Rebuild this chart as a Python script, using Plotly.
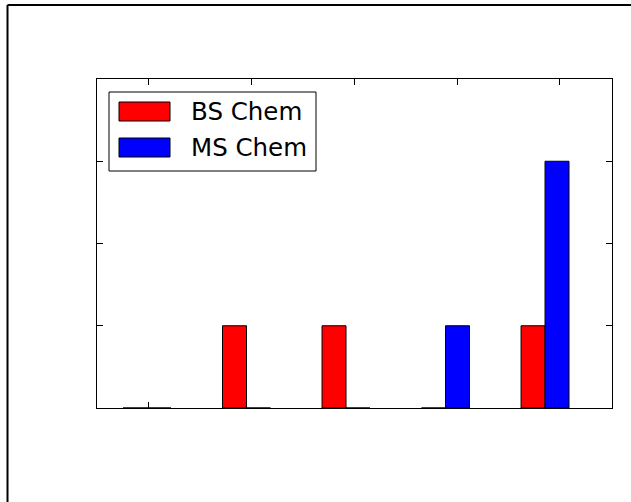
import plotly.graph_objects as go

# ---- data ----
groups = [0, 1, 2, 3, 4]
bs_chem = [0, 1, 1, 0, 1]
ms_chem = [0, 0, 0, 1, 3]
series_names = ["BS Chem", "MS Chem"]
series_colors = ["#ff0000", "#0000ff"]
top_tick_positions = [0.01, 1.05, 2.09, 3.12, 4.15]
bottom_tick_positions = [0.01]
y_ticks = [0, 1, 2, 3, 4]

W, H = 631, 502
L, R, T, B = 97, 19, 79, 94
PW, PH = W - L - R, H - T - B


def px(x):
    return (x - L) / PW


def py(y):
    return (H - B - y) / PH


fig = go.Figure()
for name, vals, col in zip(series_names, [bs_chem, ms_chem], series_colors):
    fig.add_trace(go.Bar(x=groups, y=vals, name=name, marker=dict(color=col, line=dict(color="black", width=1)),
                         showlegend=False))
# invisible trace for top axis
fig.add_trace(go.Scatter(x=[groups[0]], y=[0], xaxis="x2", mode="markers",
                         marker=dict(opacity=0), showlegend=False, hoverinfo="skip"))

xr = [-0.5025, 4.673]
fig.update_layout(
    width=W, height=H,
    margin=dict(l=L, r=R, t=T, b=B, pad=0),
    paper_bgcolor="white", plot_bgcolor="white",
    barmode="group", bargap=0.518, bargroupgap=0,
    font=dict(family="DejaVu Sans", color="black"),
    xaxis=dict(range=xr, showgrid=False, zeroline=False, showline=True, linecolor="black", linewidth=1,
               mirror=True, ticks="inside", tickvals=bottom_tick_positions, ticklen=6, tickcolor="black",
               showticklabels=False),
    xaxis2=dict(range=xr, overlaying="x", side="top", matches="x", showgrid=False, zeroline=False,
                showline=False, ticks="inside", tickvals=top_tick_positions, ticklen=6, tickcolor="black",
                showticklabels=False),
    yaxis=dict(range=[0, 4], showgrid=False, zeroline=False, showline=True, linecolor="black", linewidth=1,
               mirror="ticks", ticks="inside", tickvals=y_ticks, ticklen=6, tickcolor="black",
               showticklabels=False),
)

shapes = []
# figure frame (left and top edges visible)
shapes.append(dict(type="line", xref="paper", yref="paper", x0=px(7.5), x1=px(W), y0=py(5), y1=py(5),
                   line=dict(color="black", width=2)))
shapes.append(dict(type="line", xref="paper", yref="paper", x0=px(7.5), x1=px(7.5), y0=py(5), y1=py(H),
                   line=dict(color="black", width=2)))
# legend box
shapes.append(dict(type="rect", xref="paper", yref="paper", x0=px(109), x1=px(316), y0=py(171), y1=py(92),
                   line=dict(color="black", width=1), fillcolor="white", layer="above"))
annotations = []
for i, (name, col) in enumerate(zip(series_names, series_colors)):
    top = 102 + i * 36
    shapes.append(dict(type="rect", xref="paper", yref="paper", x0=px(119), x1=px(170), y0=py(top + 19),
                       y1=py(top), line=dict(color="black", width=1), fillcolor=col, layer="above"))
    annotations.append(dict(xref="paper", yref="paper", x=px(189), y=py(top + 9.5), text=name, showarrow=False,
                            xanchor="left", yanchor="middle", font=dict(size=24.5, family="DejaVu Sans", color="black")))
fig.update_layout(shapes=shapes, annotations=annotations)

fig.write_html("out.html")
